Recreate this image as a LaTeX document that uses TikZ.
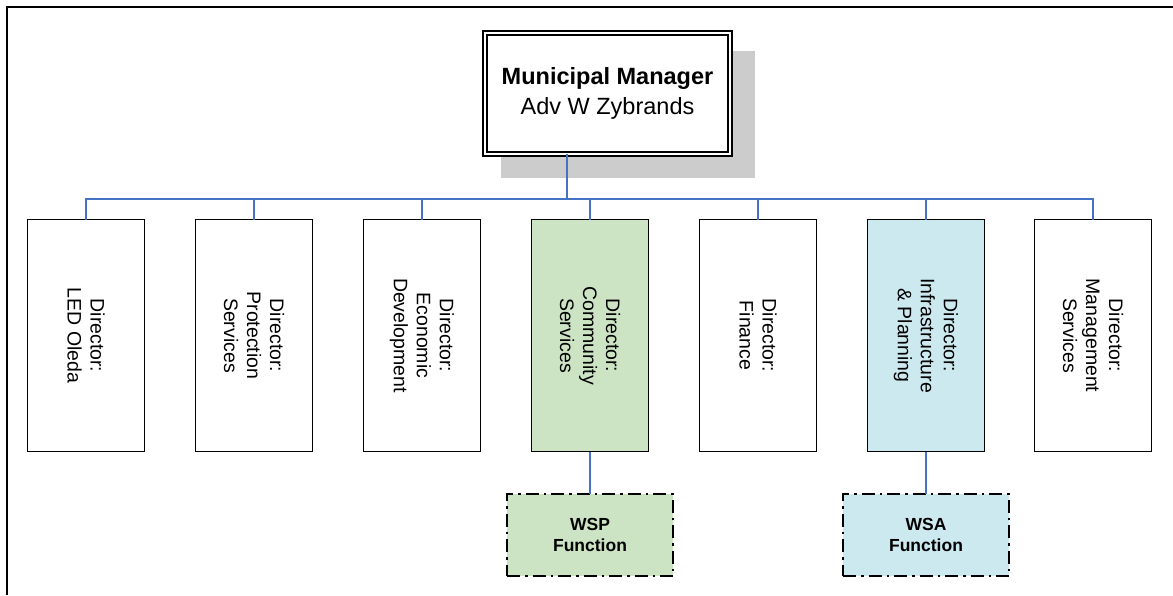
\documentclass[tikz,border=0pt]{standalone}
\usepackage{fontspec}
\setmainfont{Liberation Sans}
\definecolor{busblue}{RGB}{68,114,196}
\definecolor{greenfill}{RGB}{204,228,196}
\definecolor{bluefill}{RGB}{205,233,240}
\definecolor{shadowgray}{RGB}{204,204,204}
\tikzset{
  dirbox/.style={draw=black, fill=white, line width=1.8pt, minimum width=117pt, minimum height=232pt, inner sep=0pt, outer sep=0pt},
  dirtext/.style={rotate=-90, align=center, inner sep=0pt, font=\fontsize{19.5}{23}\selectfont},
  bus/.style={draw=busblue, line width=1.8pt},
  funcbox/.style={draw=black, line width=2.8pt, dash pattern=on 13pt off 5pt on 2.5pt off 5pt, minimum width=166pt, minimum height=82pt, inner sep=0pt, outer sep=0pt, align=center, font=\bfseries\fontsize{17.5}{21.5}\selectfont},
  mmbox/.style={draw=black, fill=white, double=white, line width=1.8pt, double distance=2.4pt, minimum width=245pt, minimum height=121pt, inner sep=0pt, outer sep=0pt, align=center, font=\fontsize{23.5}{30}\selectfont}
}
\begin{document}
\begin{tikzpicture}[x=1pt,y=-1pt]
\useasboundingbox (0,0) rectangle (1173,595);
% frame
\draw[line width=2.6pt] (7,595) -- (7,7) -- (1173,7);
% shadow
\fill[shadowgray] (501,51) rectangle (755,178);
% coordinates
\coordinate (busL) at (86,199);
\coordinate (mmdrop) at (567,150);
% director boxes
\foreach \i/\x in {1/86,2/254,3/422,4/590,5/758,6/926,7/1093}{
  \coordinate (c\i) at (\x,335.5);
}
\node[dirbox] (d1) at (c1) {};
\node[dirbox] (d2) at (c2) {};
\node[dirbox] (d3) at (c3) {};
\node[dirbox, fill=greenfill] (d4) at (c4) {};
\node[dirbox] (d5) at (c5) {};
\node[dirbox, fill=bluefill] (d6) at (c6) {};
\node[dirbox] (d7) at (c7) {};
% function boxes
\node[funcbox, fill=greenfill] (wsp) at (590,535) {WSP\\Function};
\node[funcbox, fill=bluefill] (wsa) at (926,535) {WSA\\Function};
% manager
\node[mmbox] (mm) at (607.5,93.5) {{\bfseries Municipal Manager}\\Adv W Zybrands};
% connectors
\draw[bus] (mm.south -| mmdrop) -- (mmdrop |- busL);
\draw[bus] (d1.north) -- (d1.north |- busL) -- (d7.north |- busL) -- (d7.north);
\foreach \i in {2,3,4,5,6}{ \draw[bus] (d\i.north) -- (d\i.north |- busL); }
\draw[bus] (d4.south) -- (wsp.north);
\draw[bus] (d6.south) -- (wsa.north);
% director texts
\node[dirtext] (t1) at (d1) {Director:\\LED Oleda};
\node[dirtext] (t2) at (d2) {Director:\\Protection\\Services};
\node[dirtext] (t3) at (d3) {Director:\\Economic\\Development};
\node[dirtext] (t4) at (d4) {Director:\\Community\\Services};
\node[dirtext] (t5) at (d5) {Director:\\Finance};
\node[dirtext] (t6) at (d6) {Director:\\Infrastructure\\\& Planning};
\node[dirtext] (t7) at (d7) {Director:\\Management\\Services};
\end{tikzpicture}
\end{document}
